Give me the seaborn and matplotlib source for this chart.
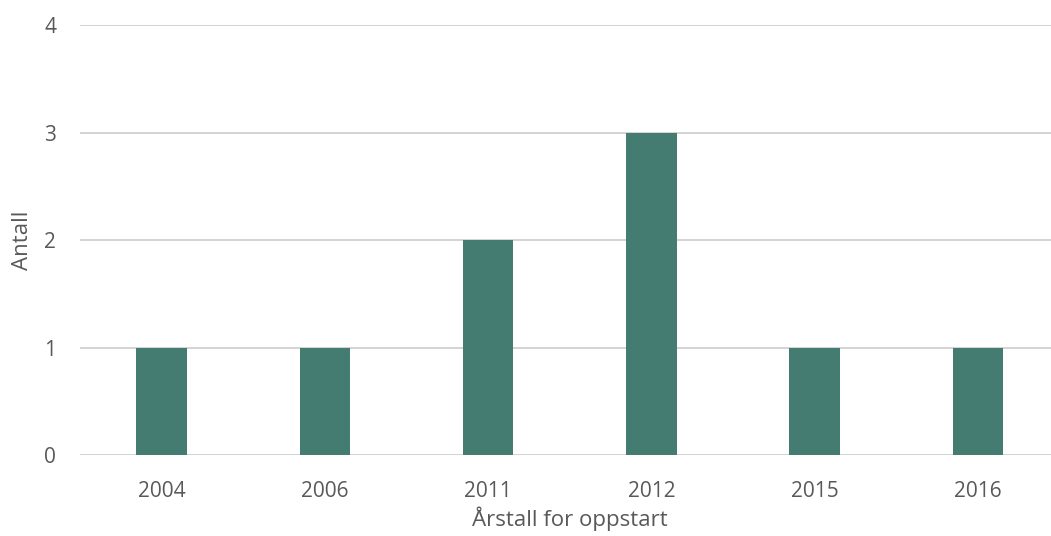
import matplotlib
matplotlib.use("Agg")
import matplotlib.pyplot as plt
import seaborn as sns
import pandas as pd

years = ["2004", "2006", "2011", "2012", "2015", "2016"]
counts = [1, 1, 2, 3, 1, 1]

sns.set_theme(style="white")
plt.rcParams['font.family'] = ['Open Sans', 'DejaVu Sans']

df = pd.DataFrame({"year": years, "count": counts})

fig = plt.figure(figsize=(10.51, 5.36), dpi=100)
ax = fig.add_axes([0.0761, 0.151, 0.932, 0.802])
sns.barplot(data=df, x="year", y="count", color="#457C71", saturation=1,
            width=0.31, linewidth=0, ax=ax, zorder=3)

ax.set_ylim(0, 4)
ax.set_yticks(range(0, 5))
ax.set_xlim(-0.5, 5.5)
ax.grid(axis='y', color='#D0D0D0', linewidth=1.3, zorder=0)
ax.set_axisbelow(True)
for s in ax.spines.values():
    s.set_visible(False)
ax.tick_params(axis='both', length=0, labelsize=15, labelcolor='#595959')
ax.tick_params(axis='y', pad=17)
ax.tick_params(axis='x', pad=19)
ax.set_xlabel("Årstall for oppstart", fontsize=16, color='#595959', labelpad=3)
ax.set_ylabel("Antall", fontsize=16, color='#595959', labelpad=8)

fig.savefig("out.png", dpi=100)
